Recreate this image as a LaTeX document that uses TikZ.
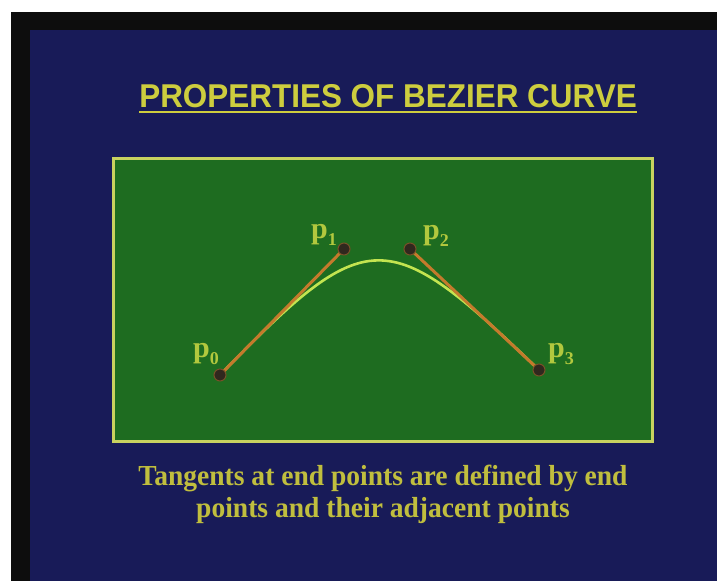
\documentclass[tikz,border=0pt]{standalone}
\usepackage{fontspec}
\setmainfont{Liberation Serif}
\newfontfamily\titlesans{Liberation Sans}
\definecolor{bgblue}{RGB}{24,27,88}
\definecolor{boardgreen}{RGB}{30,108,32}
\definecolor{rimyellow}{RGB}{200,210,95}
\definecolor{titleyellow}{RGB}{205,205,62}
\definecolor{capyellow}{RGB}{192,190,62}
\definecolor{labelgreen}{RGB}{178,200,62}
\definecolor{curvegreen}{RGB}{195,228,80}
\definecolor{handleorange}{RGB}{196,122,44}
\definecolor{dotdark}{RGB}{48,40,30}
\definecolor{dotrim}{RGB}{120,80,40}
\tikzset{
  titletext/.style={font=\titlesans\bfseries\fontsize{33}{36}\selectfont, text=titleyellow, inner sep=0pt},
  uline/.style={draw=titleyellow, line width=2.5pt},
  captiontext/.style={font=\bfseries\fontsize{29}{32}\selectfont, text=capyellow, inner sep=0pt, align=center},
  board/.style={fill=boardgreen, draw=rimyellow, line width=3pt},
  ptlabel/.style={font=\bfseries\fontsize{30}{30}\selectfont, text=labelgreen, inner sep=0pt, anchor=base west},
  handle/.style={draw=handleorange, line width=3pt},
  bezier/.style={draw=curvegreen, line width=2.6pt},
  ctrlpt/.style={circle, fill=dotdark, draw=dotrim, line width=1pt, minimum size=12pt, inner sep=0pt}
}
\newcommand{\subidx}[1]{\raisebox{-7pt}{\fontsize{18}{18}\selectfont #1}}
\begin{document}
\begin{tikzpicture}[x=1pt,y=-1pt]
\useasboundingbox (0,0) rectangle (717,581);
% frame
\fill[white] (0,0) rectangle (717,581);
\fill[black!95] (11,12) rectangle (717,581);
\fill[bgblue] (30,30) rectangle (717,581);
% title
\node[titletext, anchor=base] (title) at (388,107) {\scalebox{0.953}[1]{PROPERTIES OF BEZIER CURVE}};
\draw[uline] ([yshift=-5pt]title.base west) -- ([yshift=-5pt]title.base east);
% board
\path[board] (113,158) rectangle (652,441);
% points
\coordinate (c0) at (220,375);
\coordinate (c1) at (344,249);
\coordinate (c2) at (410,249);
\coordinate (c3) at (539,370);
\coordinate (k1) at (368,223);
\coordinate (k2) at (386,223);
% curve
\draw[bezier] (c0) .. controls (k1) and (k2) .. (c3);
% handles
\draw[handle] (c0) -- (c1);
\draw[handle] (c2) -- (c3);
% dots
\node[ctrlpt] (P0) at (c0) {};
\node[ctrlpt] (P1) at (c1) {};
\node[ctrlpt] (P2) at (c2) {};
\node[ctrlpt] (P3) at (c3) {};
% labels
\node[ptlabel] (L0) at (193,357) {p\subidx{0}};
\node[ptlabel] (L1) at (311,238) {p\subidx{1}};
\node[ptlabel] (L2) at (423,239) {p\subidx{2}};
\node[ptlabel] (L3) at (548,357) {p\subidx{3}};
% caption
\node[captiontext, anchor=base] (cap1) at (383,485) {\scalebox{0.95}[1]{Tangents at end points are defined by end}};
\node[captiontext, anchor=base] (cap2) at (383,517) {\scalebox{0.95}[1]{points and their adjacent points}};
\end{tikzpicture}
\end{document}
